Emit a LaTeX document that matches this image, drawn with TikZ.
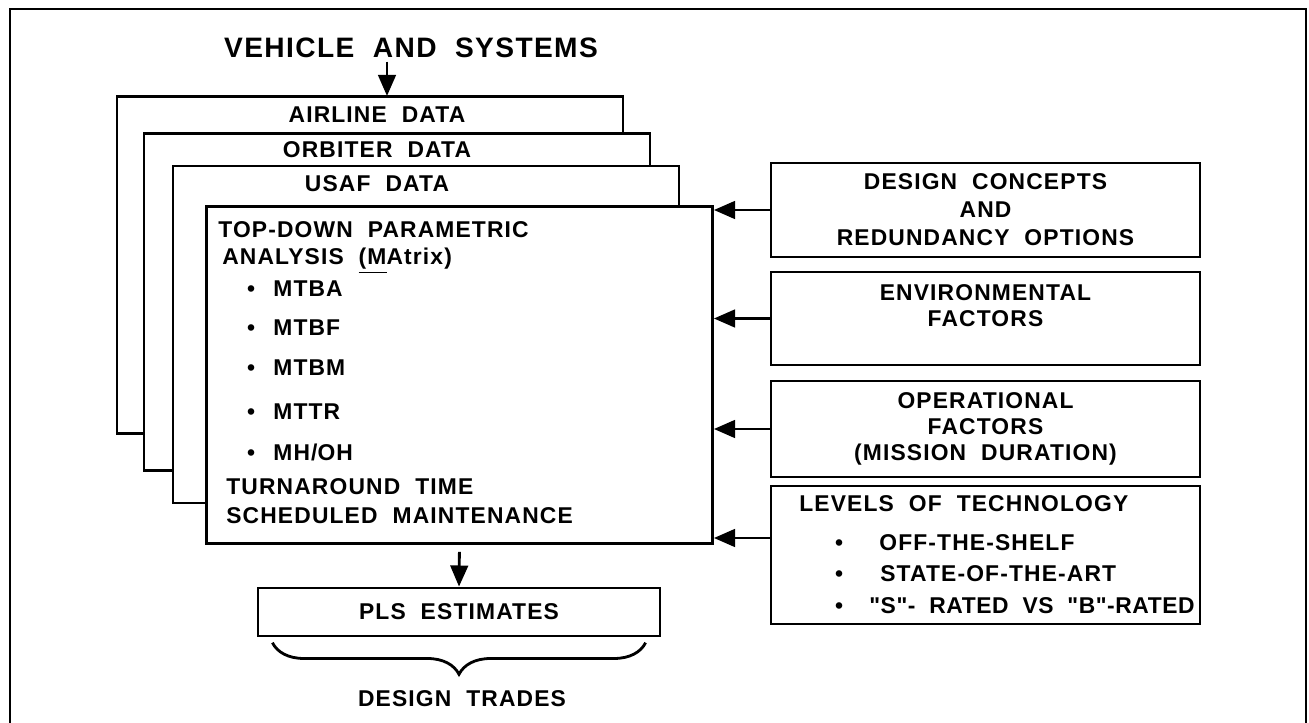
\documentclass[tikz,border=0pt]{standalone}
\usepackage{fontspec}
\setmainfont{Liberation Sans}[LetterSpace=5, WordSpace=2, Ligatures=TeXOff]
\usetikzlibrary{positioning, arrows.meta, decorations.pathreplacing}
\tikzset{
  stackbox/.style={draw, line width=1.6pt, fill=white, minimum width=101.2mm,
    minimum height=67.4mm, inner sep=0pt},
  factbox/.style={draw, line width=1.6pt, fill=white, minimum width=85.8mm, inner sep=0pt,
    align=center, font=\bfseries\fontsize{13}{16}\selectfont},
  lbl/.style={font=\bfseries\fontsize{13}{16}\selectfont, inner sep=0pt},
  arr/.style={-{Triangle[length=12pt, width=10pt]}, line width=1.6pt},
}
\begin{document}
\begin{tikzpicture}[x=0.2mm, y=-0.2mm]
  \useasboundingbox (0,0) rectangle (1309,723);
  % outer frame, open at the bottom
  \draw[line width=1.6pt] (10,723) -- (10,9) -- (1306,9) -- (1306,723);
  \node[lbl, font=\bfseries\fontsize{16}{19}\selectfont, anchor=base] (title) at (411,57.5) {VEHICLE AND SYSTEMS};
  % stacked data sheets
  \foreach \n/\cx/\cy/\t/\ty in {air/370/265/AIRLINE DATA/123, orb/397/302/ORBITER DATA/158, usaf/426/334.5/USAF DATA/192}{
    \node[stackbox] (\n) at (\cx,\cy) {};
    \node[lbl, anchor=base] (\n-t) at (377,\ty) {\t};
  }
  \node[stackbox] (main) at (459.5,375) {};
  \node[lbl, anchor=base west] (td1) at (218,238) {TOP-DOWN PARAMETRIC};
  \node[lbl, anchor=base west] (td2) at (222,265) {ANALYSIS \underline{(M}Atrix)};
  \foreach \t/\y [count=\i] in {MTBA/297, MTBF/336, MTBM/376, MTTR/420, MH\slash OH/460}{
    \node[lbl, anchor=base] (dot\i) at (251,\y) {\textbullet};
    \node[lbl, anchor=base west] (m\i) at (273,\y) {\t};
  }
  \node[lbl, anchor=base west] (turn) at (226,495) {TURNAROUND TIME};
  \node[lbl, anchor=base west] (sched) at (226,523) {SCHEDULED MAINTENANCE};
  % inputs on the right
  \node[factbox, minimum height=18.8mm] (des) at (985.5,210) {DESIGN CONCEPTS\\AND\\REDUNDANCY OPTIONS};
  \node[factbox, minimum height=18.6mm, font=\bfseries\fontsize{13}{14.5}\selectfont] (env) at (985.5,318.5) {ENVIRONMENTAL\\FACTORS\\\mbox{}};
  \node[factbox, minimum height=19.2mm, font=\bfseries\fontsize{13}{15}\selectfont] (ops) at (985.5,429) {OPERATIONAL\\FACTORS\\(MISSION DURATION)};
  \node[factbox, minimum height=27.6mm] (lev) at (985.5,555) {};
  \node[lbl, anchor=base west] (lev0) at (799,511) {LEVELS OF TECHNOLOGY};
  \foreach \t/\x/\y [count=\i] in {OFF-THE-SHELF/879/550, STATE-OF-THE-ART/880/581,
      {\addfontfeature{LetterSpace=2.5}"S"- RATED VS "B"-RATED}/869/613}{
    \node[lbl, anchor=base] (ldot\i) at (839,\y) {\textbullet};
    \node[lbl, anchor=base west] (lv\i) at (\x,\y) {\t};
  }
  \foreach \b in {des, env, ops}
    \draw[arr] (\b.west) -- (\b.west -| main.east);
  \coordinate (levin) at (771,538);
  \draw[arr] (levin) -- (levin -| main.east);
  \coordinate (vin) at (387,96);
  \draw[arr, shorten <=2pt] (title.south -| vin) -- (vin);
  % output
  \node[factbox, minimum width=80.4mm, minimum height=9.6mm] (pls) at (459,612) {PLS ESTIMATES};
  \draw[arr, shorten <=4pt] (main.south) -- (pls.north);
  \draw[line width=1.6pt, decorate, decoration={brace, mirror, amplitude=18pt}]
    ([xshift=9pt, yshift=-3pt]pls.south west) -- ([xshift=-9pt, yshift=-3pt]pls.south east);
  \node[lbl, anchor=base] (trades) at (462,706) {DESIGN TRADES};
\end{tikzpicture}
\end{document}
